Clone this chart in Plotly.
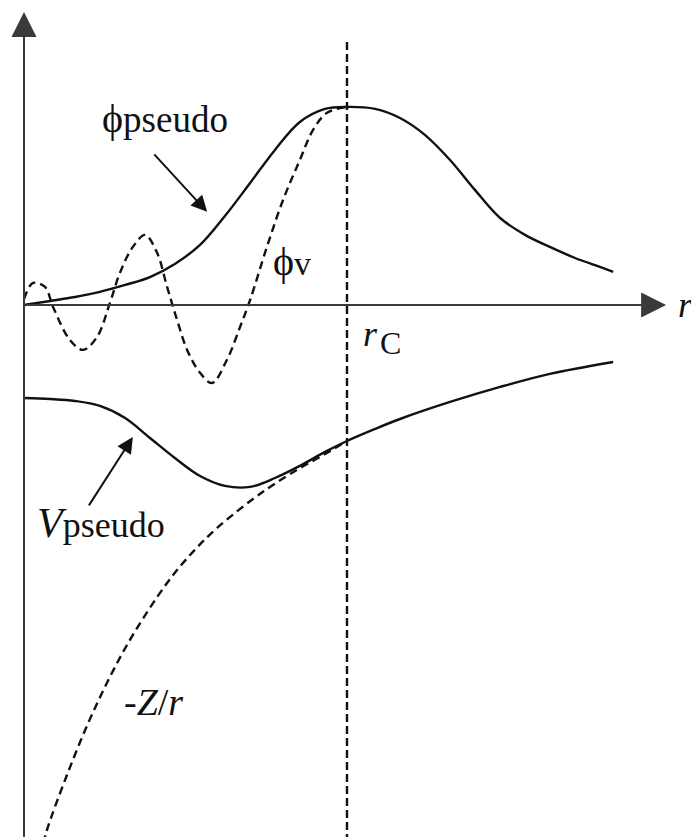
import plotly.graph_objects as go

# Radial coordinate is in units of the cutoff radius r_c; values are in arbitrary units.

# Smooth pseudo wavefunction (peaks at r_c)
r_phi_pseudo = [0.0, 0.081, 0.158, 0.235, 0.313, 0.390, 0.467, 0.545, 0.622, 0.700, 0.777,
                0.854, 0.932, 1.0, 1.087, 1.164, 1.241, 1.319, 1.396, 1.474, 1.551, 1.628,
                1.706, 1.783, 1.824]
phi_pseudo = [0.0, 0.020, 0.040, 0.066, 0.101, 0.141, 0.207, 0.303, 0.449, 0.616, 0.783,
              0.924, 0.99, 1.0, 0.99, 0.944, 0.859, 0.732, 0.581, 0.439, 0.354, 0.293,
              0.237, 0.192, 0.167]

# Oscillating all-electron valence wavefunction (inside r_c)
r_phi_v = [0.0, 0.028, 0.065, 0.09, 0.142, 0.183, 0.226, 0.266, 0.297, 0.337, 0.375,
           0.412, 0.443, 0.474, 0.505, 0.545, 0.582, 0.628, 0.669, 0.70, 0.752, 0.802,
           0.854, 0.895, 0.938, 1.0]
phi_v = [0.03, 0.111, 0.091, -0.01, -0.177, -0.227, -0.162, 0.01, 0.162, 0.293, 0.354,
         0.263, 0.091, -0.076, -0.227, -0.343, -0.394, -0.278, -0.111, 0.025, 0.293, 0.53,
         0.732, 0.884, 0.97, 1.0]

# Pseudopotential
r_v_pseudo = [0.0, 0.081, 0.158, 0.235, 0.313, 0.390, 0.467, 0.545, 0.622, 0.700, 0.777,
              0.854, 0.932, 1.0, 1.087, 1.164, 1.319, 1.474, 1.628, 1.824]
v_pseudo = [-0.470, -0.475, -0.485, -0.510, -0.571, -0.672, -0.773, -0.864, -0.914, -0.919,
            -0.874, -0.813, -0.742, -0.687, -0.626, -0.576, -0.490, -0.414, -0.348, -0.288]

# Bare Coulomb potential -Z/r (inside r_c)
r_coulomb = [0.06, 0.071, 0.133, 0.214, 0.319, 0.443, 0.523, 0.598, 0.709, 0.771, 0.845,
             0.916, 1.0]
v_coulomb = [-2.72, -2.652, -2.374, -2.056, -1.717, -1.404, -1.247, -1.126, -0.980, -0.909,
             -0.833, -0.768, -0.687]

r_cut = 1.0

X_RANGE = [-0.0743, 2.065]
Y_RANGE = [-2.687, 1.540]

FONT = "Liberation Serif"
INK = "#111111"
AXIS = "#3a3a3a"

fig = go.Figure()

solid = dict(color=INK, width=2.4, shape="spline", smoothing=1.0)
dashed = dict(color=INK, width=2.4, shape="spline", smoothing=1.0, dash="8px,5px")

fig.add_trace(go.Scatter(x=r_phi_pseudo, y=phi_pseudo, mode="lines", line=solid))
fig.add_trace(go.Scatter(x=r_phi_v, y=phi_v, mode="lines", line=dashed))
fig.add_trace(go.Scatter(x=r_v_pseudo, y=v_pseudo, mode="lines", line=solid))
fig.add_trace(go.Scatter(x=r_coulomb, y=v_coulomb, mode="lines", line=dashed))

# cutoff radius marker
fig.add_trace(go.Scatter(x=[r_cut, r_cut], y=[1.328, Y_RANGE[0] - 0.1], mode="lines",
                         line=dict(color=INK, width=2.4, dash="8px,4px")))

annotations = []

# axes with triangular arrowheads
annotations.append(dict(x=0, y=1.48, ax=0, ay=Y_RANGE[0] - 0.1, xref="x", yref="y",
                        axref="x", ayref="y", text="", showarrow=True,
                        arrowhead=2, arrowsize=2.5, arrowwidth=2, arrowcolor=AXIS))
annotations.append(dict(x=1.988, y=0, ax=0, ay=0, xref="x", yref="y",
                        axref="x", ayref="y", text="", showarrow=True,
                        arrowhead=2, arrowsize=2.5, arrowwidth=2, arrowcolor=AXIS))

# pointer arrows to the curves
annotations.append(dict(x=0.567, y=0.47, ax=0.399, ay=0.768, xref="x", yref="y",
                        axref="x", ayref="y", text="", showarrow=True,
                        arrowhead=2, arrowsize=1.6, arrowwidth=2, arrowcolor=INK))
annotations.append(dict(x=0.337, y=-0.667, ax=0.198, ay=-1.02, xref="x", yref="y",
                        axref="x", ayref="y", text="", showarrow=True,
                        arrowhead=2, arrowsize=1.6, arrowwidth=2, arrowcolor=INK))

def label(x, y, text, size=36):
    annotations.append(dict(x=x, y=y, xref="x", yref="y", text=text, showarrow=False,
                            font=dict(family=FONT, size=size, color=INK),
                            xanchor="center", yanchor="middle"))

label(0.437, 0.944, "<span style='font-size:40px'>ϕ</span>pseudo", size=37)
label(0.830, 0.220, "<span style='font-size:40px'>ϕ</span>v", size=34)
label(0.238, -1.10, "<span style='font-size:42px'><i>V</i></span>pseudo", size=36)
label(0.40, -2.005, "-<i>Z</i>/<i>r</i>", size=38)
label(1.074, -0.146, "<i>r</i>")
label(1.136, -0.19, "C", size=32)
label(2.048, 0.0, "<i>r</i>")

fig.update_layout(
    width=691, height=837,
    margin=dict(l=0, r=0, t=0, b=0),
    paper_bgcolor="white", plot_bgcolor="white",
    showlegend=False,
    xaxis=dict(range=X_RANGE, visible=False, fixedrange=True),
    yaxis=dict(range=Y_RANGE, visible=False, fixedrange=True),
    annotations=annotations,
)

fig.write_html("out.html")
